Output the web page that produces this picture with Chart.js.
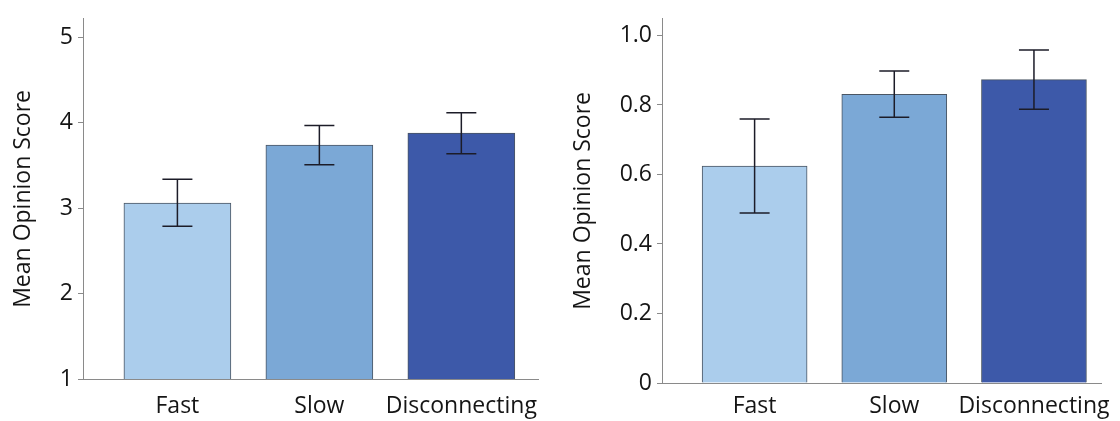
<!DOCTYPE html>
<html>
<head>
  <title>Mean Opinion Score</title>
  <script src="https://cdn.jsdelivr.net/npm/chart.js"></script>
  <style>
    body {
      margin: 0;
      background: #fff;
      width: 1120px;
      height: 421px;
      overflow: hidden;
    }
    .box {
      position: absolute;
      top: 0;
      width: 560px;
      height: 421px;
    }
  </style>
</head>
<body>
  <div class="box" style="left:0"><canvas id="leftChart"></canvas></div>
  <div class="box" style="left:560px"><canvas id="rightChart"></canvas></div>

  <script>
    const categories = ['Fast', 'Slow', 'Disconnecting'];
    const barColors = ['#abcdec', '#7ba8d6', '#3d59a9'];

    // left panel
    const leftMeans = [3.06, 3.74, 3.88];
    const leftUpper = [3.34, 3.97, 4.12];
    const leftLower = [2.79, 3.51, 3.64];
    const leftTicks = [1, 2, 3, 4, 5];
    const leftTickLabels = ['1', '2', '3', '4', '5'];

    // right panel
    const rightMeans = [0.624, 0.831, 0.873];
    const rightUpper = [0.76, 0.898, 0.958];
    const rightLower = [0.489, 0.765, 0.788];
    const rightTicks = [0, 0.2, 0.4, 0.6, 0.8, 1.0];
    const rightTickLabels = ['0', '0.2', '0.4', '0.6', '0.8', '1.0'];

    const FONT = "'Open Sans', sans-serif";
    const AXIS = '#8a8a8a';

    // draws the whiskers from the upper/lower arrays
    const errorBars = {
      id: 'errorBars',
      afterDatasetsDraw(chart, args, opts) {
        const {ctx, scales: {x, y}} = chart;
        ctx.save();
        ctx.strokeStyle = '#1c1c28';
        ctx.lineWidth = 1.5;
        opts.upper.forEach((up, i) => {
          const px = x.getPixelForValue(i + 1);
          const top = y.getPixelForValue(up);
          const bot = y.getPixelForValue(opts.lower[i]);
          ctx.beginPath();
          ctx.moveTo(px, top); ctx.lineTo(px, bot);
          ctx.moveTo(px - 15, top); ctx.lineTo(px + 15, top);
          ctx.moveTo(px - 15, bot); ctx.lineTo(px + 15, bot);
          ctx.stroke();
        });
        ctx.restore();
      }
    };

    function makeChart(id, cfg) {
      const ctx = document.getElementById(id).getContext('2d');
      return new Chart(ctx, {
        type: 'bar',
        data: {
          datasets: [{
            data: cfg.means.map((v, i) => ({x: i + 1, y: v})),
            backgroundColor: barColors,
            borderColor: '#4a5563',
            borderWidth: 1,
            barThickness: cfg.barWidth
          }]
        },
        options: {
          responsive: true,
          maintainAspectRatio: false,
          animation: false,
          layout: { padding: cfg.padding },
          plugins: {
            legend: { display: false },
            tooltip: { enabled: false },
            errorBars: { upper: cfg.upper, lower: cfg.lower }
          },
          scales: {
            x: {
              type: 'linear',
              offset: false,
              bounds: 'data',
              min: cfg.xMin,
              max: cfg.xMax,
              afterBuildTicks: s => { s.ticks = categories.map((c, i) => ({value: i + 1})); },
              afterFit: s => { s.height = cfg.bottom; },
              grid: { display: false, offset: false },
              border: { color: AXIS, width: 1 },
              ticks: {
                padding: cfg.labelPad,
                color: '#151515',
                font: { family: FONT, size: 23 },
                callback: v => categories[v - 1]
              }
            },
            y: {
              min: cfg.yMin,
              max: cfg.yMax,
              afterBuildTicks: s => { s.ticks = cfg.ticks.map(v => ({value: v})); },
              afterFit: s => { s.width = cfg.axisX; },
              grid: { drawOnChartArea: false, drawTicks: true, tickLength: 5, color: AXIS },
              border: { color: AXIS, width: 1 },
              ticks: {
                padding: 5,
                color: '#151515',
                font: { family: FONT, size: 23 },
                callback: (v) => cfg.tickLabels[cfg.ticks.findIndex(t => Math.abs(t - v) < 1e-6)]
              },
              title: {
                display: true,
                text: 'Mean Opinion Score',
                color: '#151515',
                font: { family: FONT, size: 23 },
                padding: { top: 10, bottom: 0 }
              }
            }
          }
        },
        plugins: [errorBars]
      });
    }

    makeChart('leftChart', {
      means: leftMeans, upper: leftUpper, lower: leftLower,
      ticks: leftTicks, tickLabels: leftTickLabels,
      yMin: 1, yMax: 5.22,
      xMin: 0.335, xMax: 3.54,
      barWidth: 107,
      axisX: 83, bottom: 42, labelPad: 6,
      padding: { top: 7, right: 22, left: 0, bottom: 0 }
    });

    makeChart('rightChart', {
      means: rightMeans, upper: rightUpper, lower: rightLower,
      ticks: rightTicks, tickLabels: rightTickLabels,
      yMin: 0, yMax: 1.048,
      xMin: 0.337, xMax: 3.48,
      barWidth: 105,
      axisX: 102, bottom: 38, labelPad: 2,
      padding: { top: 12, right: 19, left: 0, bottom: 0 }
    });
  </script>
</body>
</html>
